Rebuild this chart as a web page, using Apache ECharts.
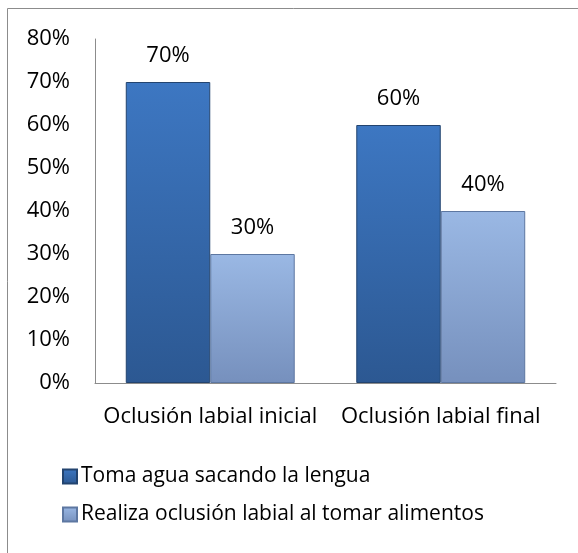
<!DOCTYPE html>
<html>
<head>
<meta charset="utf-8">
<script src="https://cdn.jsdelivr.net/npm/echarts@6/dist/echarts.min.js"></script>
<style>html,body{margin:0;padding:0;background:#fff}#c{width:578px;height:553px}</style>
</head>
<body>
<div id="c"></div>
<script>
const categories = ['Oclusión labial inicial', 'Oclusión labial final'];
const seriesNames = ['Toma agua sacando la lengua', 'Realiza oclusión labial al tomar alimentos'];
const tomaAgua = [70, 60];
const realizaOclusion = [30, 40];
const yTicks = [0, 10, 20, 30, 40, 50, 60, 70, 80];

const FONT = '"Open Sans", Lato, sans-serif';
const FS = 22;
const chart = echarts.init(document.getElementById('c'), null, {renderer: 'canvas'});
function grad(top, bottom) {
  return new echarts.graphic.LinearGradient(0, 0, 0, 1, [
    {offset: 0, color: top}, {offset: 1, color: bottom}
  ]);
}
chart.setOption({
  animation: false,
  backgroundColor: '#fff',
  graphic: [{
    type: 'rect', shape: {x: 7.5, y: 8.5, width: 700, height: 700},
    style: {fill: 'none', stroke: '#8c8c8c', lineWidth: 1}, silent: true, z: -1
  }],
  grid: {left: 95, top: 39, width: 461, height: 344, containLabel: false},
  legend: {
    orient: 'vertical', left: 57, top: 461, itemWidth: 14, itemHeight: 14, itemGap: 17,
    icon: 'rect',
    textStyle: {fontFamily: FONT, fontSize: 21, color: '#000', padding: [0, 0, 0, -1]},
    data: seriesNames
  },
  xAxis: {
    type: 'category', data: categories,
    axisLine: {lineStyle: {color: '#8c8c8c', width: 1}},
    axisTick: {show: false},
    axisLabel: {interval: 0, fontFamily: FONT, fontSize: FS, color: '#000', margin: 23}
  },
  yAxis: {
    type: 'value', min: yTicks[0], max: yTicks[yTicks.length - 1], interval: 10,
    axisLine: {show: true, lineStyle: {color: '#8c8c8c', width: 1}},
    axisTick: {show: false},
    splitLine: {show: false},
    axisLabel: {fontFamily: FONT, fontSize: FS, color: '#000', margin: 25, formatter: '{value}%'}
  },
  series: [
    {
      name: seriesNames[0], type: 'bar', data: tomaAgua,
      barGap: '0%', barCategoryGap: '26.7%',
      itemStyle: {color: grad('#3d77c2', '#2c5892'), borderColor: '#23446f', borderWidth: 1},
      label: {show: true, position: 'top', distance: 15, formatter: '{c}%', fontFamily: FONT, fontSize: FS, color: '#000'}
    },
    {
      name: seriesNames[1], type: 'bar', data: realizaOclusion,
      itemStyle: {color: grad('#9ab8e4', '#7690bd'), borderColor: '#5d77a1', borderWidth: 1},
      label: {show: true, position: 'top', distance: 15, formatter: '{c}%', fontFamily: FONT, fontSize: FS, color: '#000'}
    }
  ]
});
</script>
</body>
</html>
